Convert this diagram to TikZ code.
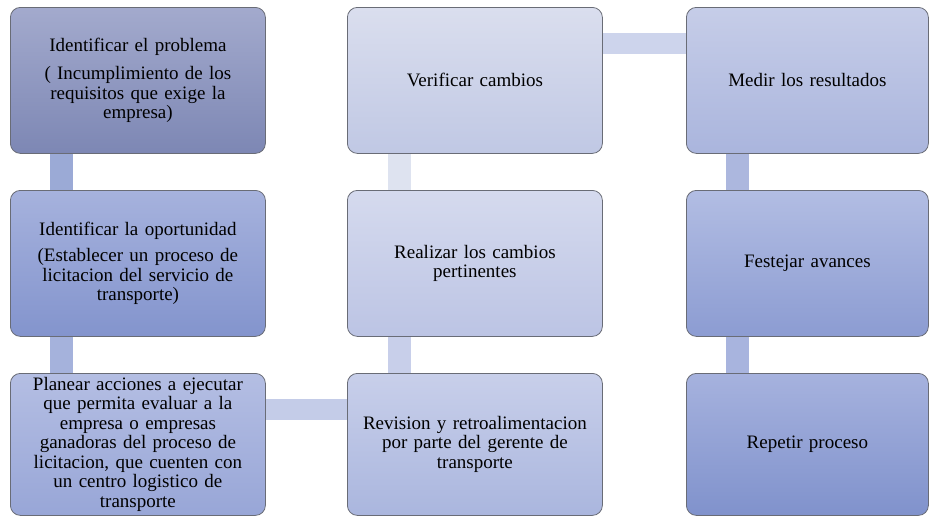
\documentclass[tikz,border=0pt]{standalone}
\usepackage{fontspec}
\setmainfont{Liberation Serif}
\definecolor{edgec}{RGB}{105,108,118}
\definecolor{aT}{RGB}{163,170,205}\definecolor{aB}{RGB}{125,135,180}
\definecolor{bT}{RGB}{166,178,221}\definecolor{bB}{RGB}{131,148,205}
\definecolor{cT}{RGB}{180,190,227}\definecolor{cB}{RGB}{152,166,215}
\definecolor{dT}{RGB}{218,222,238}\definecolor{dB}{RGB}{192,200,228}
\definecolor{eT}{RGB}{213,218,238}\definecolor{eB}{RGB}{188,196,228}
\definecolor{fT}{RGB}{200,207,234}\definecolor{fB}{RGB}{170,182,222}
\definecolor{gT}{RGB}{198,205,232}\definecolor{gB}{RGB}{170,181,221}
\definecolor{hT}{RGB}{178,189,227}\definecolor{hB}{RGB}{140,156,210}
\definecolor{iT}{RGB}{166,178,222}\definecolor{iB}{RGB}{128,146,204}
\definecolor{kA}{RGB}{155,170,214}
\definecolor{kB}{RGB}{165,178,220}
\definecolor{kC}{RGB}{196,204,232}
\definecolor{kD}{RGB}{200,207,234}
\definecolor{kE}{RGB}{222,227,240}
\definecolor{kF}{RGB}{205,212,236}
\definecolor{kG}{RGB}{172,183,222}
\definecolor{kH}{RGB}{168,180,222}
\begin{document}
\begin{tikzpicture}[x=1pt,y=-1pt,
  stepbox/.style={draw=edgec, line width=0.8pt, rounded corners=10pt,
    anchor=north west, minimum width=255pt, minimum height=146pt,
    align=center, text width=245pt, inner sep=0pt,
    font=\fontsize{19}{19.5}\selectfont},
  shortbox/.style={stepbox, minimum height=142pt},
  narrowbox/.style={stepbox, minimum width=242pt, text width=232pt},
  vlink/.style={line width=23pt},
  hlink/.style={line width=21pt}]
\useasboundingbox (0,0) rectangle (929,517);
% nodes
\node[stepbox, top color=aT, bottom color=aB] (a) at (10,7)
  {Identificar el problema\\[9pt](~Incumplimiento de los\\requisitos que exige la\\empresa)};
\node[stepbox, top color=bT, bottom color=bB] (b) at (10,190)
  {Identificar la oportunidad\\[7pt](Establecer un proceso de\\licitacion del servicio de\\transporte)};
\node[shortbox, top color=cT, bottom color=cB] (c) at (10,373)
  {Planear acciones a ejecutar\\que permita evaluar a la\\empresa o empresas\\ganadoras del proceso de\\licitacion, que cuenten con\\un centro logistico de\\transporte};
\node[stepbox, top color=dT, bottom color=dB] (d) at (347,7) {Verificar cambios};
\node[stepbox, top color=eT, bottom color=eB] (e) at (347,190) {Realizar los cambios\\pertinentes};
\node[shortbox, top color=fT, bottom color=fB] (f) at (347,373)
  {Revision y retroalimentacion\\por parte del gerente de\\transporte};
\node[narrowbox, top color=gT, bottom color=gB] (g) at (686,7) {Medir los resultados};
\node[narrowbox, top color=hT, bottom color=hB] (h) at (686,190) {Festejar avances};
\node[narrowbox, shortbox, minimum width=242pt, text width=232pt, top color=iT, bottom color=iB] (i) at (686,373) {Repetir proceso};
% connectors
\draw[vlink, kA] ([xshift=51.5pt]a.south west) -- ([xshift=51.5pt]b.north west);
\draw[vlink, kB] ([xshift=51.5pt]b.south west) -- ([xshift=51.5pt]c.north west);
\draw[hlink, kC] ([yshift=-36pt]c.north east) -- ([yshift=-36pt]f.north west);
\draw[vlink, kD] ([xshift=52.5pt]f.north west) -- ([xshift=52.5pt]e.south west);
\draw[vlink, kE] ([xshift=52.5pt]e.north west) -- ([xshift=52.5pt]d.south west);
\draw[hlink, kF] ([yshift=-36pt]d.north east) -- ([yshift=-36pt]g.north west);
\draw[vlink, kG] ([xshift=51.5pt]g.south west) -- ([xshift=51.5pt]h.north west);
\draw[vlink, kH] ([xshift=51.5pt]h.south west) -- ([xshift=51.5pt]i.north west);
\end{tikzpicture}
\end{document}
